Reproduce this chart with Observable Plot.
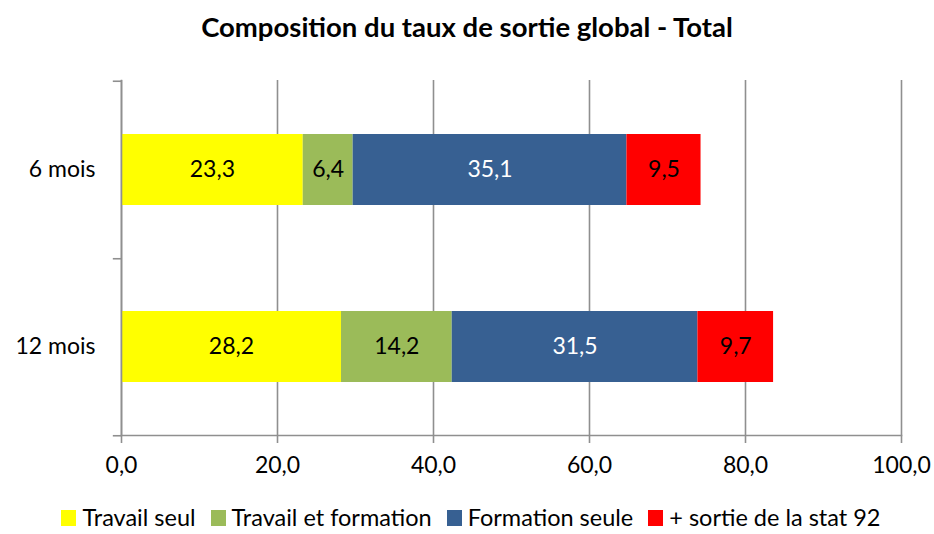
<!DOCTYPE html>
<html>
<head>
<meta charset="utf-8">
<script src="https://cdn.jsdelivr.net/npm/d3@7"></script>
<script src="https://cdn.jsdelivr.net/npm/@observablehq/plot@0.6"></script>
<style>
  html, body { margin: 0; padding: 0; background: #fff; }
  body { position: relative; width: 934px; height: 534px; overflow: hidden; font-family: Lato, "Open Sans", sans-serif; }
  #title { height: 60px; line-height: 54px; text-align: center; font-weight: bold; font-size: 27.5px; color: #000; }
  #chart svg { display: block; }
  #legend { position: absolute; left: 8px; right: 0; top: 504px; height: 28px; display: flex; justify-content: center; align-items: center; font-size: 23.5px; line-height: 1; color: #000; }
  #legend .item { display: flex; align-items: center; margin: 0 7.5px; }
  #legend .sw { width: 15px; height: 16px; margin-right: 6px; }
</style>
</head>
<body>
<div id="title">Composition du taux de sortie global - Total</div>
<div id="chart"></div>
<div id="legend"></div>
<script>
const categories = ["6 mois", "12 mois"];
const seriesNames = ["Travail seul", "Travail et formation", "Formation seule", "+ sortie de la stat 92"];
const seriesColors = ["#FFFF00", "#9BBB59", "#376092", "#FF0000"];
const labelColors = ["#000", "#000", "#fff", "#000"];
const travailSeul = [23.3, 28.2];
const travailFormation = [6.4, 14.2];
const formationSeule = [35.1, 31.5];
const sortieStat92 = [9.5, 9.7];
const xTicks = [0, 20, 40, 60, 80, 100];

const seriesValues = [travailSeul, travailFormation, formationSeule, sortieStat92];
const data = [];
categories.forEach((c, i) => {
  seriesNames.forEach((s, j) => {
    data.push({cat: c, series: s, value: seriesValues[j][i], labelColor: labelColors[j]});
  });
});
const fr = d => d3.format(".1f")(d).replace(".", ",");

const height = 440, marginTop = 20, marginBottom = 65;
const step = (height - marginTop - marginBottom) / categories.length;
const grey = "#8f8f8f";

const plot = Plot.plot({
  width: 934,
  height,
  marginLeft: 121,
  marginRight: 33,
  marginTop,
  marginBottom,
  style: {fontFamily: "Lato, 'Open Sans', sans-serif", fontSize: "23px", color: "#000", background: "#fff"},
  x: {domain: [0, 100], label: null},
  y: {domain: categories, paddingInner: 0.6, paddingOuter: 0.3, label: null},
  color: {domain: seriesNames, range: seriesColors},
  marks: [
    Plot.gridX(xTicks, {stroke: grey, strokeOpacity: 1, strokeWidth: 1.6}),
    Plot.axisX(xTicks, {tickFormat: fr, tickSize: 8, tickPadding: 13, stroke: grey, strokeWidth: 1.6, fontSize: 23, label: null}),
    Plot.axisY({tickSize: 0, tickPadding: 26, fontSize: 23, label: null}),
    Plot.barX(data, Plot.stackX({x: "value", y: "cat", fill: "series", order: seriesNames})),
    Plot.text(data, Plot.stackX({x: "value", y: "cat", z: "series", order: seriesNames, text: d => fr(d.value), fill: "labelColor", fontSize: 23})),
    Plot.frame({anchor: "left", stroke: grey, strokeWidth: 1.6}),
    Plot.frame({anchor: "bottom", stroke: grey, strokeWidth: 1.6}),
    Plot.ruleY([categories[0]], {x1: -1.05, x2: 0, dy: -step / 2, stroke: grey, strokeWidth: 1.6}),
    Plot.ruleY(categories, {x1: -1.05, x2: 0, dy: step / 2, stroke: grey, strokeWidth: 1.6})
  ]
});
document.getElementById("chart").appendChild(plot);

const legend = document.getElementById("legend");
seriesNames.forEach((s, i) => {
  const item = document.createElement("div");
  item.className = "item";
  const sw = document.createElement("div");
  sw.className = "sw";
  sw.style.background = seriesColors[i];
  const t = document.createElement("span");
  t.textContent = s;
  item.appendChild(sw);
  item.appendChild(t);
  legend.appendChild(item);
});
</script>
</body>
</html>
